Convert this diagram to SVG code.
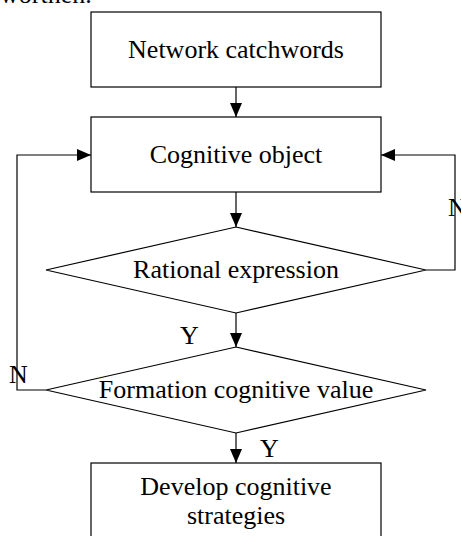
<svg xmlns="http://www.w3.org/2000/svg" width="461" height="536" viewBox="0 0 461 536">
<style>
.box{fill:#fff;stroke:#000;stroke-width:1.2}
.t{font-family:"Liberation Serif","Times New Roman",serif;font-size:26px;fill:#000}
.c{text-anchor:middle}
.ln{fill:none;stroke:#000;stroke-width:1.2}
</style>
<defs>
<marker id="ah" viewBox="0 0 14 12" refX="14" refY="6" markerWidth="14" markerHeight="12" markerUnits="userSpaceOnUse" orient="auto">
<path d="M0,0 L14,6 L0,12 Z" fill="#000"/>
</marker>
</defs>
<text class="t" x="0" y="3">worthen.</text>
<g id="n1"><rect class="box" x="91" y="12" width="290" height="75"/><text class="t c" x="236" y="58">Network catchwords</text></g>
<g id="n2"><rect class="box" x="91" y="117" width="290" height="75"/><text class="t c" x="236" y="163">Cognitive object</text></g>
<g id="n3"><polygon class="box" points="236,227 426,270 236,313 46,270"/><text class="t c" x="236" y="278">Rational expression</text></g>
<g id="n4"><polygon class="box" points="236,347 426,390 236,433 46,390"/><text class="t c" x="236" y="398">Formation cognitive value</text></g>
<g id="n5"><rect class="box" x="91" y="463" width="290" height="90"/><text class="t c" x="236" y="495">Develop cognitive</text><text class="t c" x="236" y="524">strategies</text></g>
<g id="edges">
<line class="ln" x1="236" y1="87" x2="236" y2="117" marker-end="url(#ah)"/>
<line class="ln" x1="236" y1="192" x2="236" y2="227" marker-end="url(#ah)"/>
<line class="ln" x1="236" y1="313" x2="236" y2="347" marker-end="url(#ah)"/>
<line class="ln" x1="236" y1="433" x2="236" y2="463" marker-end="url(#ah)"/>
<polyline class="ln" points="426,270 455,270 455,155 381,155" marker-end="url(#ah)"/>
<polyline class="ln" points="46,390 17,390 17,155 91,155" marker-end="url(#ah)"/>
<text class="t" x="180" y="344">Y</text>
<text class="t" x="260" y="457">Y</text>
<text class="t" x="9" y="383">N</text>
<text class="t" x="448" y="216">N</text>
</g>
</svg>
